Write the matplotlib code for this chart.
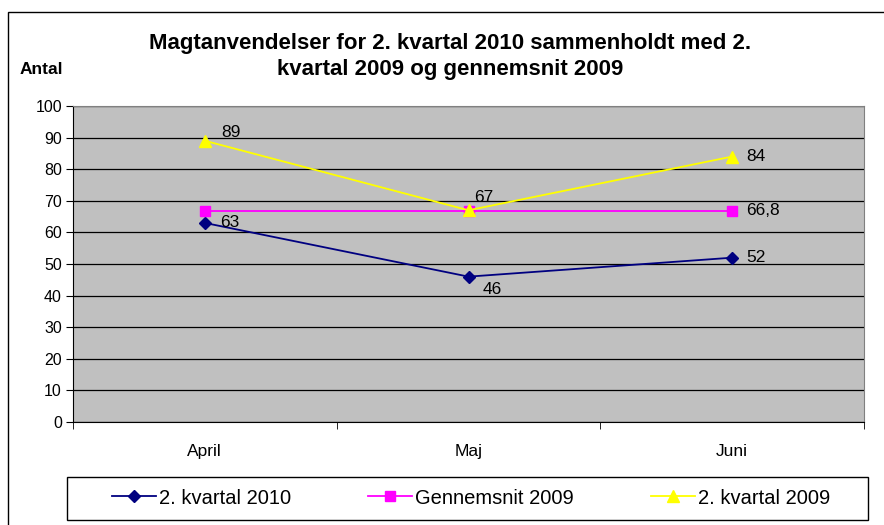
import matplotlib.pyplot as plt
from matplotlib.patches import Rectangle

plt.rcParams['font.family'] = ['Liberation Sans', 'DejaVu Sans']

months = ['April', 'Maj', 'Juni']
kvartal_2010 = [63, 46, 52]
gennemsnit_2009 = [66.8, 66.8, 66.8]
kvartal_2009 = [89, 67, 84]

labels_2010 = ['63', '46', '52']
labels_gns = ['', '', '66,8']
labels_2009 = ['89', '67', '84']


def main():
    fig = plt.figure(figsize=(8.84, 5.25), dpi=100)
    fig.patch.set_facecolor('white')

    # frame of the embedded chart object
    fig.patches.append(Rectangle((8 / 884, -0.05), 1.0, 1 - 12 / 525 + 0.05,
                                 transform=fig.transFigure, fill=False,
                                 edgecolor='black', linewidth=1.0))

    ax = fig.add_axes([73 / 884, 1 - 422 / 525, (864 - 73) / 884, (422 - 106) / 525])
    ax.set_facecolor('#C0C0C0')

    x = list(range(len(months)))
    l1, = ax.plot(x, kvartal_2010, color='#000080', marker='D', markersize=6,
                  linewidth=1.3, label='2. kvartal 2010', zorder=3)
    l2, = ax.plot(x, gennemsnit_2009, color='#FF00FF', marker='s', markersize=7,
                  linewidth=1.3, label='Gennemsnit 2009', zorder=3)
    l3, = ax.plot(x, kvartal_2009, color='#FFFF00', marker='^', markersize=8,
                  linewidth=1.3, label='2. kvartal 2009', zorder=4)

    # data labels (Excel style, placed right of the markers)
    offs_2010 = [(11, 0), (10, -9), (10, 0)]
    offs_2009 = [(12, 6), (4, 9), (10, 0)]
    for i in x:
        ax.annotate(labels_2010[i], (i, kvartal_2010[i]), xytext=offs_2010[i],
                    textcoords='offset points', va='center', ha='left', fontsize=12.5)
        ax.annotate(labels_2009[i], (i, kvartal_2009[i]), xytext=offs_2009[i],
                    textcoords='offset points', va='center', ha='left', fontsize=12.5)
        if labels_gns[i]:
            ax.annotate(labels_gns[i], (i, gennemsnit_2009[i]), xytext=(10, 0),
                        textcoords='offset points', va='center', ha='left', fontsize=12.5)

    ax.set_ylim(0, 100)
    ax.set_xlim(-0.5, 2.5)
    ax.set_yticks(range(0, 101, 10))
    ax.yaxis.grid(True, color='black', linewidth=0.9)
    ax.set_axisbelow(True)

    ax.set_xticks(x)
    ax.set_xticklabels(months)
    ax.set_xticks([-0.5, 0.5, 1.5, 2.5], minor=True)
    ax.tick_params(axis='x', which='major', length=0, pad=16, labelsize=12.5)
    ax.tick_params(axis='x', which='minor', length=5, color='black')
    ax.tick_params(axis='y', length=5, labelsize=11.5, pad=3)

    for side in ['top', 'right']:
        ax.spines[side].set_color('#808080')
    for side in ['left', 'bottom']:
        ax.spines[side].set_color('black')

    fig.text(450 / 884, 1 - 44 / 525, 'Magtanvendelser for 2. kvartal 2010 sammenholdt med 2.',
             ha='center', va='center', fontsize=16, fontweight='bold')
    fig.text(450 / 884, 1 - 70 / 525, 'kvartal 2009 og gennemsnit 2009',
             ha='center', va='center', fontsize=16, fontweight='bold')
    fig.text(20 / 884, 1 - 70 / 525, 'Antal', ha='left', va='center',
             fontsize=12.5, fontweight='bold')

    # legend box drawn separately, entries centred inside it
    fig.patches.append(Rectangle((67 / 884, 1 - 520 / 525), (868 - 67) / 884, 43 / 525,
                                 transform=fig.transFigure, fill=False,
                                 edgecolor='black', linewidth=1.0))
    fig.legend(handles=[l1, l2, l3], loc='center', ncol=3,
               bbox_to_anchor=(471 / 884, 1 - 498 / 525),
               fontsize=14.5, frameon=False, handlelength=2.2, handletextpad=0.15,
               columnspacing=3.8)

    fig.savefig('out.png', dpi=100)


main()
